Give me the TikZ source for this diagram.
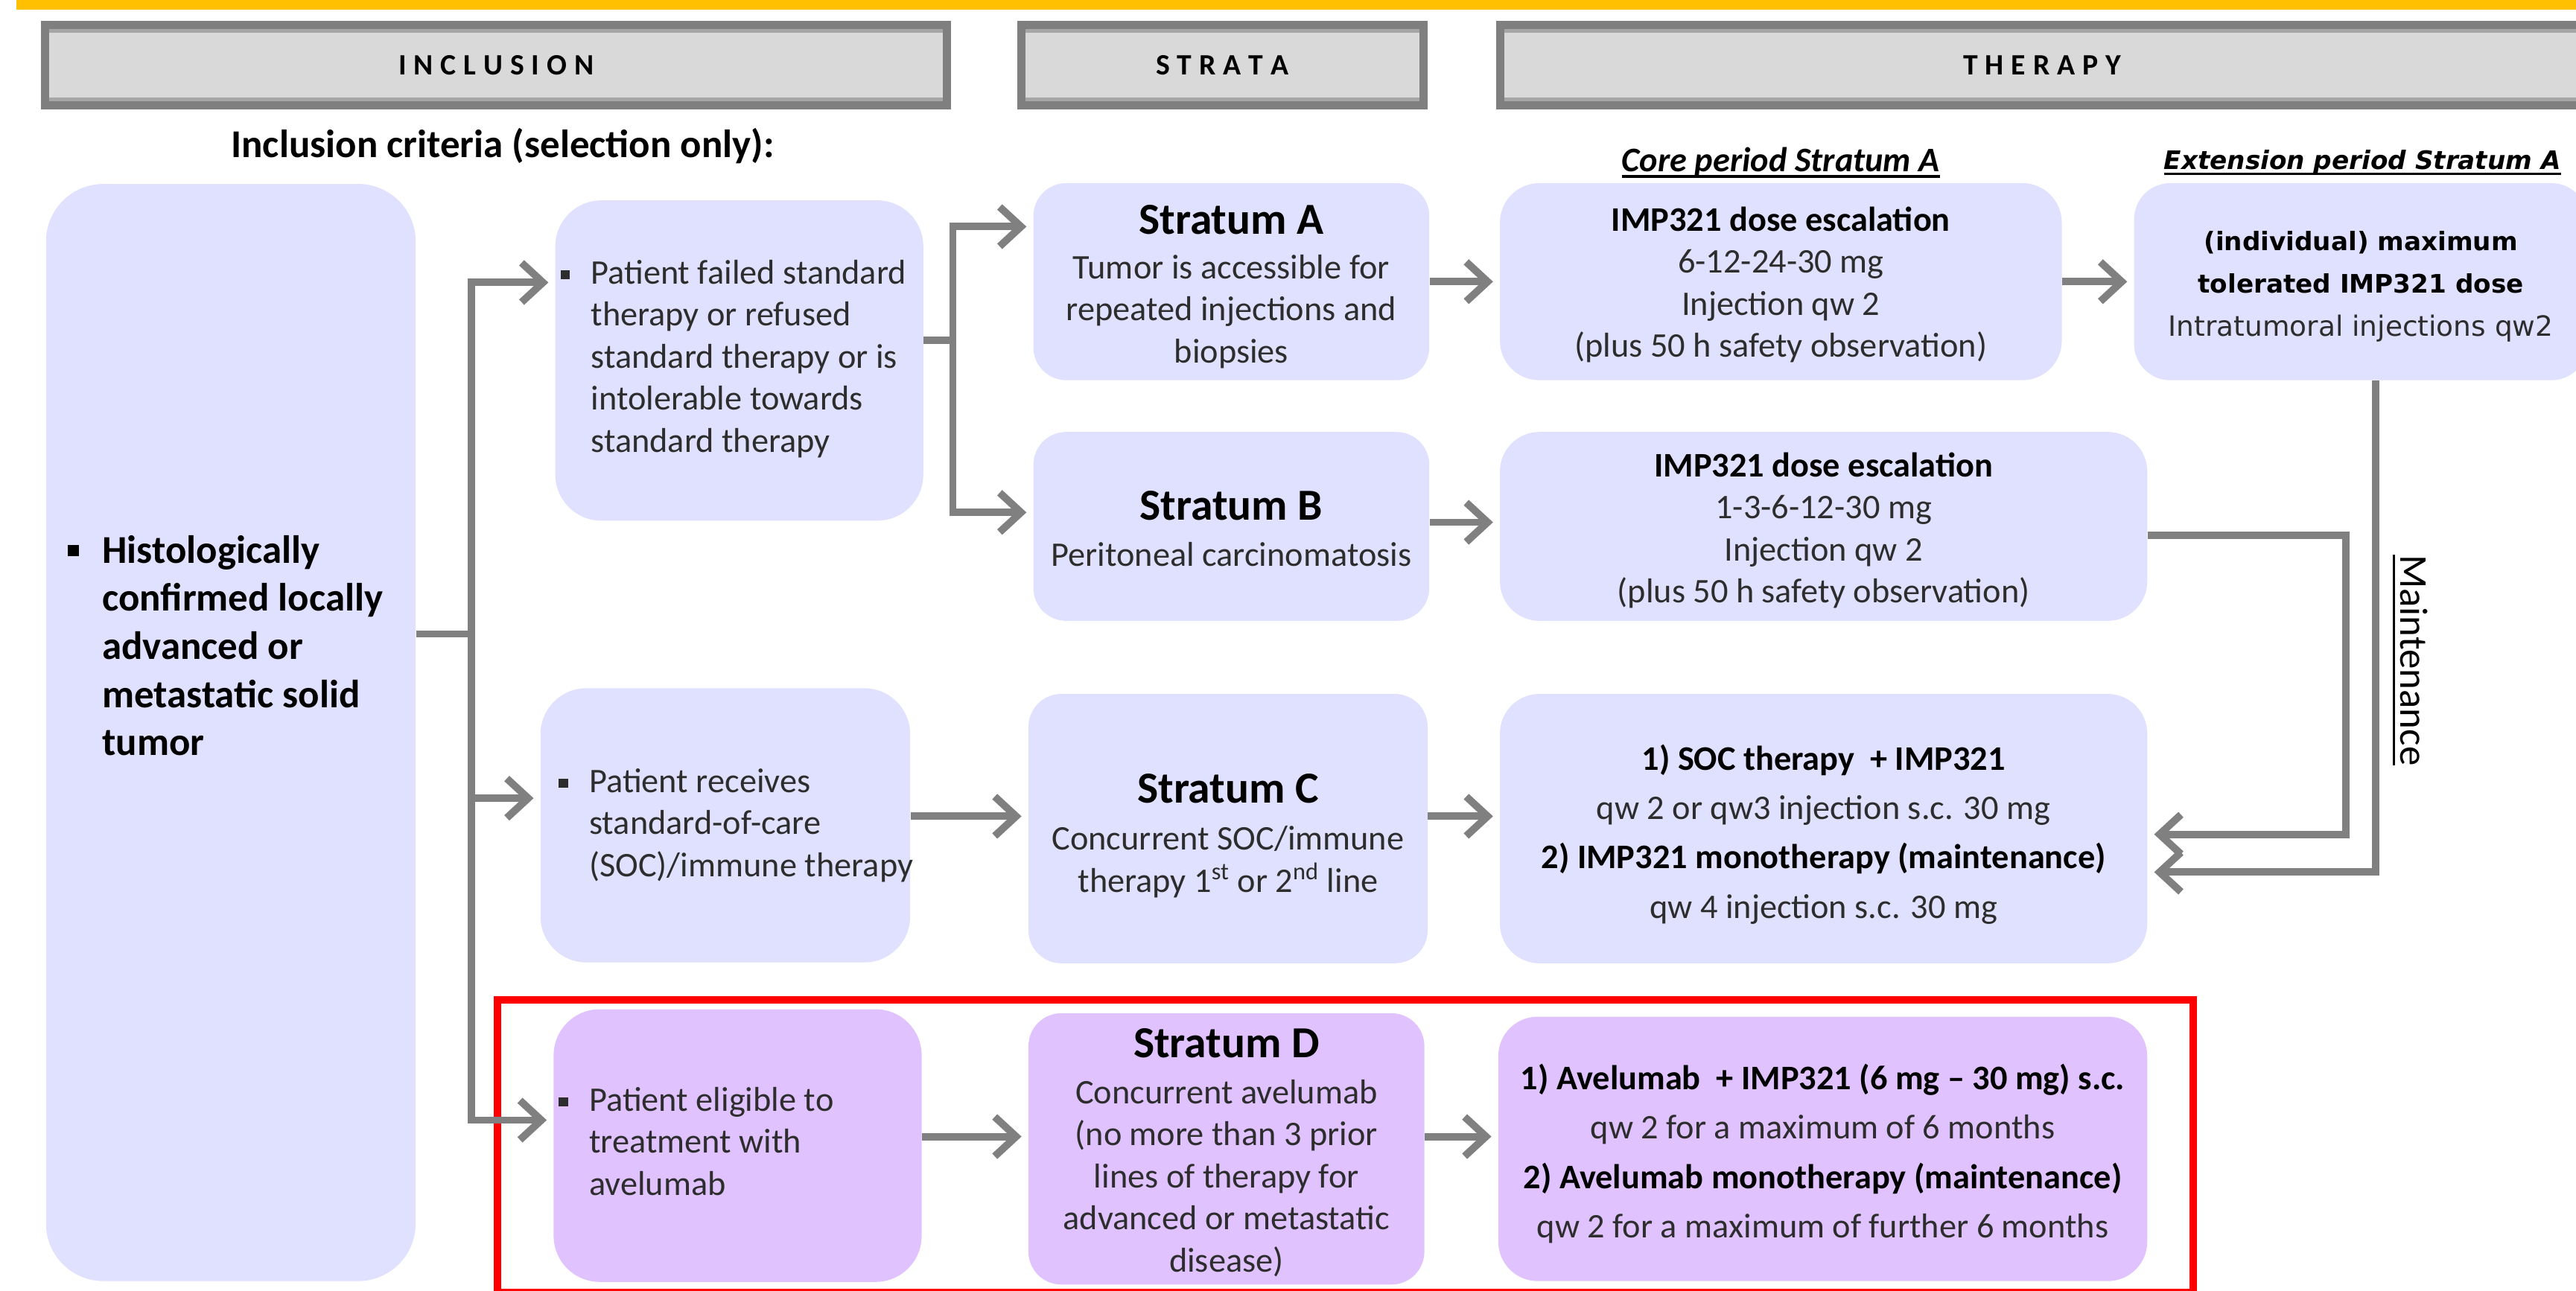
\documentclass[tikz,border=0pt]{standalone}
\usepackage{fontspec}
\setmainfont{Carlito}
\newfontfamily\verd{DejaVu Sans}
\usetikzlibrary{arrows.meta}
\definecolor{lav}{RGB}{224,224,255}
\definecolor{pur}{RGB}{224,194,255}
\definecolor{hdrfill}{RGB}{217,217,217}
\definecolor{hdrline}{RGB}{127,127,127}
\definecolor{hdrin}{RGB}{166,166,166}
\definecolor{arrg}{RGB}{128,128,128}
\definecolor{txt}{RGB}{45,45,45}
\definecolor{yel}{RGB}{255,192,0}
\definecolor{redb}{RGB}{255,0,0}
\newcommand\bodyfont{\fontsize{21}{25.6}\selectfont}
\newcommand\stitle[1]{{\fontsize{27}{30}\selectfont\bfseries\color{black}#1}}
\newcommand\bul{\rule[3pt]{5.5pt}{5.5pt}}
\newcommand\bigbul{\rule[4pt]{7pt}{7pt}}
\newcommand\tpad[1]{\rule{0pt}{#1}}
\newcommand\ulx[2][4pt]{\leavevmode\setbox0=\hbox{#2}\rlap{\rule[-#1]{\wd0}{1.6pt}}\box0}
\def\spreadloop#1{\ifx#1\relax\else#1\kern4.5pt\expandafter\spreadloop\fi}
\newcommand\spread[1]{\spreadloop#1\relax\kern-4.5pt}
\begin{document}
\begin{tikzpicture}[x=1pt,y=-1pt,
  box/.style={rounded corners=20pt, fill=lav, inner sep=0pt, text=txt, font=\bodyfont},
  pbox/.style={box, fill=pur},
  hdr/.style={draw=hdrline, fill=hdrfill, line width=5pt, inner sep=0pt, font=\fontsize{18}{20}\selectfont\bfseries, text=black,
    path picture={\draw[hdrin, line width=9pt] (path picture bounding box.north west) -- (path picture bounding box.north east)
      (path picture bounding box.south west) -- (path picture bounding box.south east);}},
  gline/.style={draw=arrg, line width=4.5pt},
  conn/.style={gline, line join=miter, -{Straight Barb[length=13pt,width=24pt]}, shorten >=4pt},
  btxt/.style={anchor=west, inner sep=0pt, font=\bodyfont, text=txt}]
\useasboundingbox (0,0) rectangle (1568,786);
\fill[yel] (10,0) rectangle (1570,6);
% headers
\node[hdr, minimum width=549pt, minimum height=48.7pt] (hinc) at (302,39.7) {\spread{INCLUSION}};
\node[hdr, minimum width=245pt, minimum height=48.7pt] (hstr) at (744,39.7) {\spread{STRATA}};
\node[hdr, minimum width=660pt, minimum height=48.7pt] (hthe) at (1243,39.7) {\spread{THERAPY}};
% labels
\node[font=\fontsize{24}{28}\selectfont\bfseries] (inccrit) at (306,89) {Inclusion criteria (selection only):};
\node[font=\fontsize{21}{25}\selectfont\bfseries\itshape] (corelab) at (1084,99) {\ulx[3.5pt]{Core period Stratum A}};
\node[font=\verd\fontsize{15.5}{18}\selectfont\bfseries\itshape] (extlab) at (1438,99) {\ulx[3.5pt]{Extension period Stratum A}};
% inclusion column
\node[box, rounded corners=35pt, minimum width=225pt, minimum height=668pt] (main) at (140.5,446) {};
\node[anchor=west, inner sep=0pt, font=\fontsize{24}{29.3}\selectfont\bfseries, text=black] (maintxt) at (41,395.5)
  {\begin{tabular}{@{}l@{\hspace{14pt}}l@{}}\bigbul&Histologically\\&confirmed locally\\&advanced or\\&metastatic solid\\&tumor\end{tabular}};
\node[box, rounded corners=28pt, minimum width=224pt, minimum height=195pt] (p1) at (450,219.5) {};
\node[btxt] (p1t) at (341,219)
  {\begin{tabular}{@{}l@{\hspace{13pt}}l@{}}\bul&Patient failed standard\\&therapy or refused\\&standard therapy or is\\&intolerable towards\\&standard therapy\end{tabular}};
\node[box, rounded corners=28pt, minimum width=225pt, minimum height=167pt] (p2) at (441.5,502.5) {};
\node[btxt] (p2t) at (340,503)
  {\begin{tabular}{@{}l@{\hspace{13pt}}l@{}}\bul&Patient receives\\&standard-of-care\\&(SOC)/immune therapy\end{tabular}};
\node[pbox, rounded corners=28pt, minimum width=224pt, minimum height=166pt] (p3) at (449,697.5) {};
\node[btxt] (p3t) at (340,697)
  {\begin{tabular}{@{}l@{\hspace{13pt}}l@{}}\bul&Patient eligible to\\&treatment with\\&avelumab\end{tabular}};
% strata
\node[box, minimum width=241pt, minimum height=120pt] (sa) at (749.5,171.5)
  {\begin{tabular}{@{}c@{}}\tpad{28pt}\stitle{Stratum A}\\[1.5pt]Tumor is accessible for\\repeated injections and\\biopsies\end{tabular}};
\node[box, minimum width=241pt, minimum height=115pt] (sb) at (749.5,320.5)
  {\begin{tabular}{@{}c@{}}\tpad{28pt}\stitle{Stratum B}\\[2.5pt]Peritoneal carcinomatosis\end{tabular}};
\node[box, minimum width=243pt, minimum height=164pt] (sc) at (747.5,504.5)
  {\begin{tabular}{@{}c@{}}\tpad{31pt}\stitle{Stratum C}\\[3pt]Concurrent SOC/immune\\therapy 1\textsuperscript{st} or 2\textsuperscript{nd} line\end{tabular}};
\node[pbox, minimum width=241pt, minimum height=161pt] (sd) at (746.5,699.5)
  {\begin{tabular}{@{}c@{}}\tpad{27pt}\stitle{Stratum D}\\[2.5pt]Concurrent avelumab\\(no more than 3 prior\\lines of therapy for\\advanced or metastatic\\disease)\end{tabular}};
% therapy
\node[box, rounded corners=24pt, minimum width=342pt, minimum height=120pt] (ca) at (1084,171.5)
  {\begin{tabular}{@{}c@{}}\tpad{23pt}\textbf{\color{black}IMP321 dose escalation}\\6-12-24-30 mg\\Injection qw 2\\(plus 50 h safety observation)\end{tabular}};
\node[box, rounded corners=22pt, minimum width=276pt, minimum height=120pt, font=\verd\fontsize{17}{26}\selectfont] (ea) at (1437,171.5)
  {\begin{tabular}{@{}c@{}}\tpad{22pt}{\fontsize{15.5}{26}\selectfont\bfseries\color{black}(individual) maximum}\\{\fontsize{15.5}{26}\selectfont\bfseries\color{black}tolerated IMP321 dose}\\Intratumoral injections qw2\end{tabular}};
\node[box, rounded corners=24pt, minimum width=394pt, minimum height=115pt] (cb) at (1110,320.5)
  {\begin{tabular}{@{}c@{}}\tpad{24pt}\textbf{\color{black}IMP321 dose escalation}\\1-3-6-12-30 mg\\Injection qw 2\\(plus 50 h safety observation)\end{tabular}};
\node[box, rounded corners=24pt, minimum width=394pt, minimum height=164pt, font=\fontsize{21}{30}\selectfont] (tc) at (1110,504.5)
  {\begin{tabular}{@{}c@{}}\tpad{28pt}\textbf{\color{black}1) SOC therapy~ + IMP321}\\qw 2 or qw3 injection s.c. 30 mg\\\textbf{\color{black}2) IMP321 monotherapy (maintenance)}\\qw 4 injection s.c. 30 mg\end{tabular}};
\node[pbox, rounded corners=24pt, minimum width=395pt, minimum height=161pt, font=\fontsize{21}{30}\selectfont] (td) at (1109.5,699.5)
  {\begin{tabular}{@{}c@{}}\tpad{27pt}\textbf{\color{black}1) Avelumab~ + IMP321 (6 mg – 30 mg) s.c.}\\qw 2 for a maximum of 6 months\\\textbf{\color{black}2) Avelumab monotherapy (maintenance)}\\qw 2 for a maximum of further 6 months\end{tabular}};
% red frame
\node[draw=redb, line width=4.5pt, inner sep=0pt, minimum width=1032pt, minimum height=178pt] (dframe) at (819,698) {};
% connectors from inclusion
\coordinate (jm) at (287,386);
\coordinate (jt) at (287,172);
\coordinate (jc) at (287,486);
\coordinate (jb) at (287,682);
\draw[gline] (main.east |- jm) -- (jm);
\draw[gline, line cap=rect] (jt) -- (jb);
\draw[conn] (jt) -- (p1.west |- jt);
\draw[conn] (jc) -- (p2.west |- jc);
\draw[conn] (jb) -- (p3.west |- jb);
% P1 to strata A/B
\coordinate (km) at (580,207);
\coordinate (kt) at (580,138);
\coordinate (kb) at (580,312);
\draw[gline] (p1.east |- km) -- (km);
\draw[gline, line cap=rect] (kt) -- (kb);
\draw[conn] (kt) -- (sa.west |- kt);
\draw[conn] (kb) -- (sb.west |- kb);
% horizontal flows
\draw[conn] (sa.east) -- (ca.west);
\draw[conn] (ca.east) -- (ea.west);
\coordinate (yB) at (0,318);
\draw[conn] (sb.east |- yB) -- (cb.west |- yB);
\coordinate (yC) at (0,497);
\draw[conn] (p2.east |- yC) -- (sc.west |- yC);
\draw[conn] (sc.east |- yC) -- (tc.west |- yC);
\coordinate (yD) at (0,692);
\draw[conn] (p3.east |- yD) -- (sd.west |- yD);
\draw[conn] (sd.east |- yD) -- (td.west |- yD);
% maintenance returns
\coordinate (m1) at (1428,326);
\coordinate (m2) at (1428,508);
\draw[conn] (cb.east |- m1) -- (m1) -- (m2) -- (tc.east |- m2);
\coordinate (m3) at (1446,531);
\draw[conn] (ea.south -| m3) -- (m3) -- (tc.east |- m3);
\node[rotate=-90, font=\fontsize{24}{28}\selectfont, text=black] (maint) at (1467,402) {\ulx[5pt]{Maintenance}};
\end{tikzpicture}
\end{document}
